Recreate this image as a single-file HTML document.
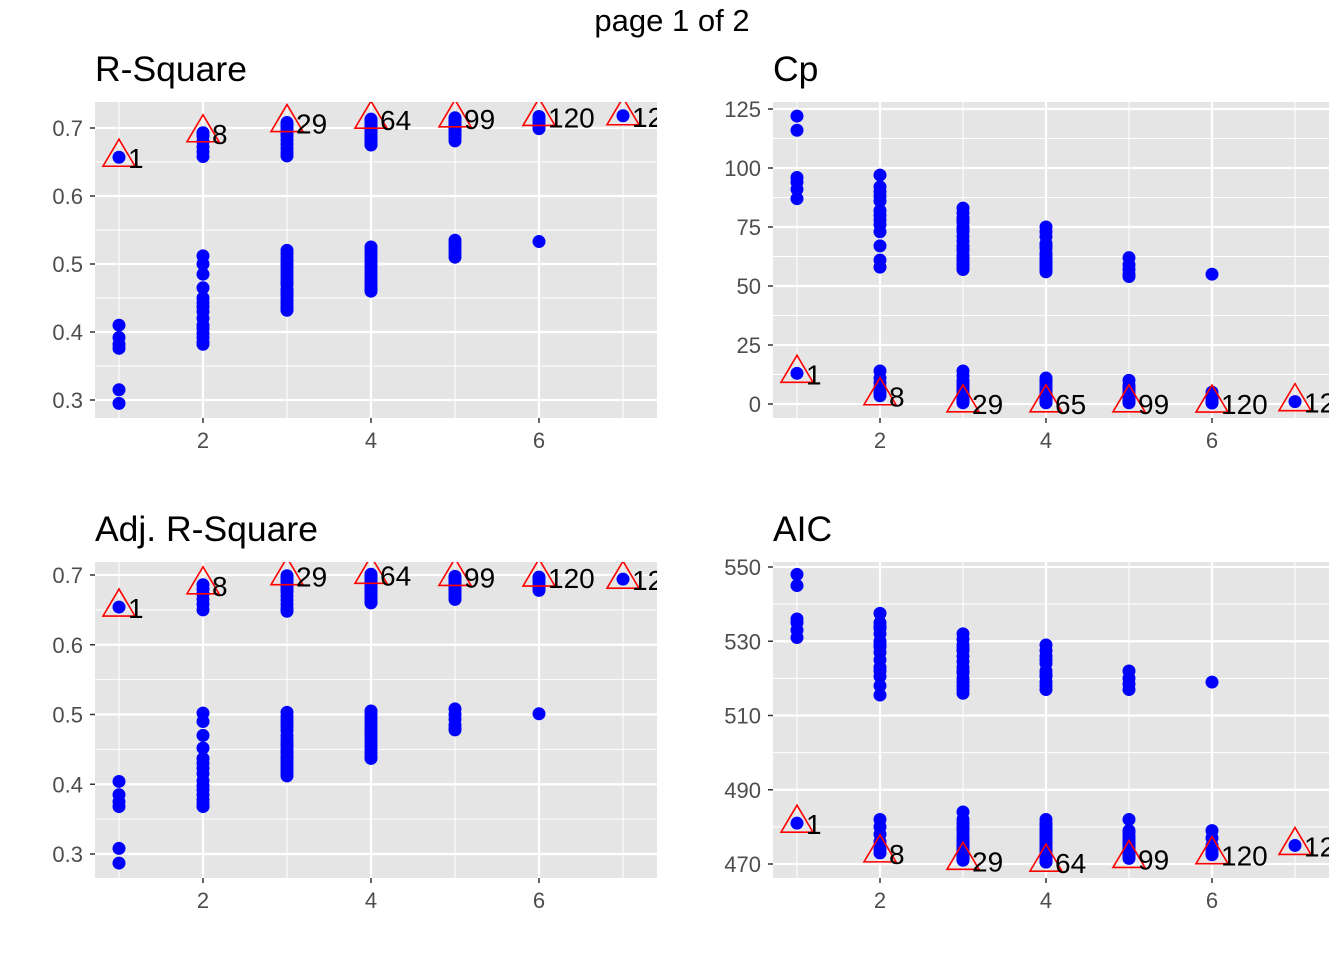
<!DOCTYPE html>
<html><head><meta charset="utf-8"><style>
body{margin:0;background:#fff;}
svg{display:block;font-family:"Liberation Sans",sans-serif;}
</style></head><body>
<svg id="chart" width="1344" height="960" viewBox="0 0 1344 960" xmlns="http://www.w3.org/2000/svg">
<text x="672" y="31" text-anchor="middle" font-size="31" fill="#000">page 1 of 2</text>
</svg>
<script>
const xTicks = [2, 4, 6];
const rsqValues = [
 [0.657,0.410,0.392,0.382,0.376,0.315,0.295],
 [0.693,0.688,0.680,0.672,0.665,0.658,0.512,0.500,0.485,0.465,0.450,0.443,0.437,0.430,0.420,0.410,0.405,0.398,0.392,0.385,0.382],
 [0.708,0.705,0.702,0.699,0.696,0.692,0.688,0.682,0.676,0.670,0.664,0.659,0.520,0.515,0.510,0.505,0.500,0.495,0.490,0.485,0.480,0.475,0.470,0.463,0.458,0.453,0.448,0.445,0.442,0.438,0.435,0.432,0.470,0.460,0.455],
 [0.713,0.711,0.709,0.707,0.705,0.703,0.701,0.699,0.697,0.695,0.693,0.690,0.688,0.686,0.684,0.682,0.680,0.678,0.676,0.675,0.525,0.520,0.515,0.510,0.505,0.500,0.495,0.490,0.485,0.480,0.475,0.470,0.466,0.463,0.460],
 [0.715,0.713,0.711,0.709,0.707,0.705,0.703,0.701,0.699,0.697,0.695,0.692,0.689,0.685,0.681,0.535,0.530,0.525,0.520,0.515,0.510],
 [0.717,0.714,0.710,0.706,0.702,0.699,0.533],
 [0.718]
];
const adjValues = [
 [0.654,0.404,0.385,0.375,0.368,0.308,0.287],
 [0.686,0.680,0.673,0.665,0.658,0.650,0.502,0.490,0.470,0.452,0.437,0.430,0.423,0.415,0.405,0.398,0.392,0.385,0.378,0.372,0.368],
 [0.699,0.696,0.692,0.688,0.684,0.680,0.676,0.670,0.664,0.658,0.652,0.648,0.503,0.497,0.492,0.487,0.482,0.477,0.470,0.465,0.460,0.455,0.450,0.445,0.440,0.436,0.432,0.428,0.424,0.420,0.416,0.412,0.457,0.447,0.437],
 [0.701,0.699,0.697,0.695,0.693,0.691,0.689,0.687,0.685,0.683,0.681,0.679,0.677,0.675,0.672,0.669,0.666,0.663,0.661,0.660,0.505,0.500,0.495,0.490,0.485,0.480,0.475,0.470,0.465,0.460,0.455,0.450,0.445,0.440,0.437],
 [0.698,0.696,0.694,0.692,0.690,0.688,0.686,0.684,0.682,0.680,0.678,0.675,0.672,0.668,0.665,0.508,0.500,0.493,0.485,0.480,0.478],
 [0.697,0.694,0.690,0.685,0.682,0.678,0.501],
 [0.694]
];
const cpValues = [
 [122,116,96,94,91,87,13],
 [97,92,90,88,86,82,80,78,76,73,67,61,58,14,11,9,7,5,4.5,4,3.5],
 [83,81,79,77,75,73,71,69,67,65,63,61,60,59,58,57,66,62,74,78,14,12,10,9,8,7,6,5,4,3.5,3,2.5,2,1.5,0.5],
 [75,73,71,68,66,64,62,60,59,58,57,56,67,63,61,11,10,9,8,7,6,5,4.5,4,3.5,3,2.7,2.4,2,1.8,1.5,1.2,1,0.7,0.5],
 [62,59,57,55,54,10,8,7,6,5,4.5,4,3.5,3,2.5,2,1.7,1.4,1.1,0.8,0.5],
 [55,5,3.5,2.5,1.5,1,0.4],
 [1]
];
const aicValues = [
 [548,545,536,535,533,531,481],
 [537.5,535,533.5,532,530,528.5,527,525,523,520.5,518,515.5,534,529,522,482,480,478,476,474,473],
 [532,530.5,529,527.5,526,524.5,523,521.5,520,519,518,517,516,528,522,484,482,480,479,478,477,476,475,474.5,474,473.5,473,472.5,472,471.5,471,476.5,475.5,479.5,481],
 [529,527.5,526,524,522,520.5,519,518,517,525,521,482,481,480,479,478,477,476,475,474.5,474,473.5,473,472.5,472,471.5,471,470.7,470.5,476.5,475.5,477.5,478.5,479.5,480.5],
 [522,520,518.5,517,482,479,477,476,475,474.5,474,473.5,473,472.5,472,471.8,471.5,475.5,476.5,477.5,478.5],
 [519,479,477,475,474,473,472.5],
 [475]
];
const rsqBestIds = [1,8,29,64,99,120,127];
const cpBestIds = [1,8,29,65,99,120,127];
const aicBestIds = [1,8,29,64,99,120,127];
const rsqTicks = [0.3,0.4,0.5,0.6,0.7];
const cpTicks = [0,25,50,75,100,125];
const aicTicks = [470,490,510,530,550];

const NS = "http://www.w3.org/2000/svg";
const svg = document.getElementById('chart');
function mk(tag, attrs, parent){const e=document.createElementNS(NS,tag);for(const k in attrs)e.setAttribute(k,attrs[k]);(parent||svg).appendChild(e);return e;}

function panel(cfg){
  const g = mk('g',{});
  
  
  const clipId='clip-'+cfg.name;
  const cp=mk('clipPath',{id:clipId},g);
  mk('rect',{x:cfg.x0,y:cfg.y0,width:cfg.x1-cfg.x0,height:cfg.y1-cfg.y0},cp);
  const bg=mk('rect',{x:cfg.x0,y:cfg.y0,width:cfg.x1-cfg.x0,height:cfg.y1-cfg.y0,fill:'#e5e5e5'},g);
  
  
  const xs=v=>cfg.xa+(v-1)*cfg.xu;
  const ys=cfg.ys;
  for(let i=0;i<cfg.ticks.length+1;i++){
    const step=cfg.ticks[1]-cfg.ticks[0];
    const v=cfg.ticks[0]-step/2+i*step;
    const y=ys(v);
    if(y>cfg.y0&&y<cfg.y1)mk('line',{x1:cfg.x0,x2:cfg.x1,y1:y,y2:y,stroke:'#fff','stroke-width':1},g);
  }
  [1,3,5,7].forEach(v=>{const x=xs(v);if(x<cfg.x1)mk('line',{x1:x,x2:x,y1:cfg.y0,y2:cfg.y1,stroke:'#fff','stroke-width':1},g);});
  cfg.ticks.forEach(v=>{
    const y=ys(v);
    mk('line',{x1:cfg.x0,x2:cfg.x1,y1:y,y2:y,stroke:'#fff','stroke-width':2.2},g);
    mk('line',{x1:cfg.x0-5,x2:cfg.x0,y1:y,y2:y,stroke:'#333','stroke-width':1.5},g);
    const t=mk('text',{x:cfg.x0-12,y:y+8,'text-anchor':'end','font-size':22,fill:'#4d4d4d'},g);
    t.textContent=cfg.fmt(v);
    
    
  });
  xTicks.forEach(v=>{
    const x=xs(v);
    mk('line',{x1:x,x2:x,y1:cfg.y0,y2:cfg.y1,stroke:'#fff','stroke-width':2.2},g);
    mk('line',{x1:x,x2:x,y1:cfg.y1,y2:cfg.y1+5,stroke:'#333','stroke-width':1.5},g);
    const t=mk('text',{x:x,y:cfg.y1+30,'text-anchor':'middle','font-size':22,fill:'#4d4d4d'},g);
    t.textContent=v;
    
    
  });
  const title=mk('text',{x:cfg.x0,y:cfg.y0-21,'font-size':35.5,fill:'#000'},g);
  title.textContent=cfg.title;
  
  
  const pg=mk('g',{'clip-path':'url(#'+clipId+')'},g);
  cfg.data.forEach((arr,i)=>{
    arr.forEach(v=>{
      const c=mk('circle',{cx:xs(i+1),cy:ys(v),r:6.5,fill:'#0000ff'},pg);
      
      
    });
  });
  cfg.data.forEach((arr,i)=>{
    const best=cfg.max?Math.max(...arr):Math.min(...arr);
    const x=xs(i+1), y=ys(best);
    const tri=mk('polygon',{points:`${x},${y-18} ${x-16},${y+9} ${x+16},${y+9}`,fill:'none',stroke:'#ff0000','stroke-width':1.6},pg);
    
    
    const t=mk('text',{x:x+9,y:y+11,'font-size':28,fill:'#000'},pg);
    t.textContent=cfg.ids[i];
    
    
  });
}
const f1=v=>v.toFixed(1);
const f0=v=>String(v);
panel({name:'r-square',title:'R-Square',x0:95,x1:657,y0:102,y1:418,xa:119,xu:84,ys:v=>128+(0.7-v)*680,ticks:rsqTicks,fmt:f1,data:rsqValues,max:true,ids:rsqBestIds});
panel({name:'cp',title:'Cp',x0:773,x1:1329,y0:102,y1:418,xa:797,xu:83,ys:v=>404-v*59/25,ticks:cpTicks,fmt:f0,data:cpValues,max:false,ids:cpBestIds});
panel({name:'adj-r-square',title:'Adj. R-Square',x0:95,x1:657,y0:562,y1:878,xa:119,xu:84,ys:v=>575+(0.7-v)*697.5,ticks:rsqTicks,fmt:f1,data:adjValues,max:true,ids:rsqBestIds});
panel({name:'aic',title:'AIC',x0:773,x1:1329,y0:562,y1:878,xa:797,xu:83,ys:v=>864-(v-470)*74.25/20,ticks:aicTicks,fmt:f0,data:aicValues,max:false,ids:aicBestIds});
</script>
</body></html>
